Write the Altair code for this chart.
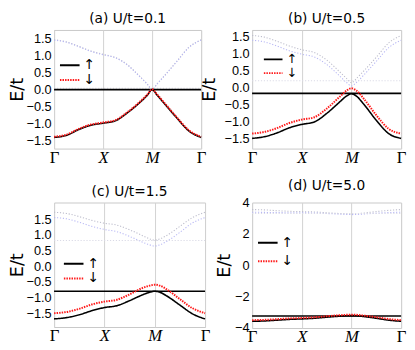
import altair as alt
import pandas as pd

# k-path positions (Γ=0, X=1, M=2, Γ=3)
K = [0, 0.25, 0.5, 0.75, 1, 1.25, 1.5, 1.75, 1.9, 2, 2.1, 2.25, 2.5, 2.75, 3]
K_TICKS = [0, 1, 2, 3]
K_LABELS = ["Γ", "X", "M", "Γ"]
SPINS = ["↑", "↓"]
TITLES = ["(a) U/t=0.1", "(b) U/t=0.5", "(c) U/t=1.5", "(d) U/t=5.0"]

# (a) U/t = 0.1
A_LOW_UP = [-1.41, -1.35, -1.18, -1.05, -0.99, -0.92, -0.68, -0.38, -0.17, 0.0, -0.16, -0.41, -0.83, -1.22, -1.41]
A_LOW_DN = [-1.39, -1.33, -1.16, -1.03, -0.97, -0.90, -0.66, -0.36, -0.15, 0.01, -0.14, -0.39, -0.81, -1.20, -1.39]
A_HIGH_UP = [1.47, 1.41, 1.28, 1.14, 1.04, 0.95, 0.73, 0.39, 0.17, 0.01, 0.17, 0.41, 0.83, 1.25, 1.47]
A_HIGH_DN = [1.46, 1.40, 1.27, 1.13, 1.03, 0.94, 0.72, 0.38, 0.16, 0.0, 0.16, 0.40, 0.82, 1.24, 1.46]
A_FLAT_UP = 0.0
A_FLAT_DN = 0.04

# (b) U/t = 0.5
B_LOW_UP = [-1.50, -1.45, -1.34, -1.19, -1.09, -1.02, -0.77, -0.45, -0.26, -0.19, -0.26, -0.50, -0.97, -1.36, -1.50]
B_LOW_DN = [-1.36, -1.31, -1.20, -1.05, -0.95, -0.88, -0.63, -0.30, -0.10, -0.03, -0.10, -0.34, -0.82, -1.22, -1.36]
B_HIGH_UP = [1.52, 1.47, 1.35, 1.21, 1.10, 1.02, 0.80, 0.47, 0.26, 0.13, 0.26, 0.48, 0.88, 1.30, 1.52]
B_HIGH_DN = [1.38, 1.33, 1.21, 1.07, 0.97, 0.89, 0.67, 0.35, 0.14, 0.04, 0.14, 0.36, 0.76, 1.16, 1.38]
B_FLAT_UP = -0.18
B_FLAT_DN = 0.19

# (c) U/t = 1.5
C_LOW_UP = [-1.68, -1.64, -1.55, -1.42, -1.32, -1.26, -1.10, -0.92, -0.83, -0.80, -0.83, -0.96, -1.24, -1.52, -1.68]
C_LOW_DN = [-1.50, -1.46, -1.36, -1.22, -1.13, -1.07, -0.90, -0.70, -0.62, -0.59, -0.62, -0.75, -1.05, -1.34, -1.50]
C_HIGH_UP = [1.72, 1.68, 1.58, 1.46, 1.37, 1.31, 1.16, 0.98, 0.87, 0.83, 0.87, 0.99, 1.27, 1.55, 1.72]
C_HIGH_DN = [1.55, 1.51, 1.40, 1.27, 1.17, 1.10, 0.95, 0.77, 0.68, 0.64, 0.68, 0.80, 1.08, 1.38, 1.55]
C_FLAT_UP = -0.80
C_FLAT_DN = 0.82

# (d) U/t = 5.0
D_LOW_UP = [-3.57, -3.55, -3.50, -3.45, -3.42, -3.38, -3.31, -3.25, -3.22, -3.21, -3.22, -3.27, -3.38, -3.50, -3.57]
D_LOW_DN = [-3.50, -3.48, -3.44, -3.39, -3.36, -3.32, -3.25, -3.19, -3.16, -3.15, -3.16, -3.21, -3.31, -3.43, -3.50]
D_HIGH_UP = [3.55, 3.53, 3.48, 3.44, 3.42, 3.40, 3.35, 3.30, 3.28, 3.27, 3.28, 3.33, 3.42, 3.50, 3.55]
D_HIGH_DN = [3.38, 3.37, 3.36, 3.35, 3.35, 3.33, 3.30, 3.26, 3.24, 3.23, 3.24, 3.27, 3.32, 3.36, 3.38]
D_FLAT_UP = -3.23
D_FLAT_DN = 3.30

STYLE_DOMAIN = ["↑", "↓", "hi↑", "hi↓", "flat↓"]
COLORS = ["#000000", "#ff1a1a", "#bdbdcc", "#b8b8f4", "#dadae6"]
DASHES = [[1, 0], [1.5, 1.1], [1.2, 1.8], [1.2, 1.8], [1.2, 1.8]]


def make_df(low_up, low_dn, high_up, high_dn, flat_up, flat_dn):
    rows = []
    def add(style, line, ks, vals):
        for k, e in zip(ks, vals):
            rows.append({"k": k, "E": e, "style": style, "line": line})
    add("hi↑", "hi_up", K, high_up)
    add("hi↓", "hi_dn", K, high_dn)
    add("flat↓", "flat_dn", [K[0], K[-1]], [flat_dn, flat_dn])
    add("↑", "flat_up", [K[0], K[-1]], [flat_up, flat_up])
    add("↑", "low_up", K, low_up)
    add("↓", "low_dn", K, low_dn)
    return pd.DataFrame(rows)


label_expr = "[" + ",".join("'%s'" % l for l in K_LABELS) + "][round(datum.value)]"
italic_test = " || ".join("datum.value == %d" % v for v, l in zip(K_TICKS, K_LABELS) if l != "Γ")


def panel(df, title, ydom, yvals, yfmt, w, h, title_x, lx, ly, lh, lsym, lfs):
    leg = alt.Legend(values=SPINS, orient="none", legendX=lx, legendY=ly, title=None,
                     symbolType="stroke", symbolSize=lsym, symbolStrokeWidth=2,
                     labelFont="DejaVu Sans", labelFontSize=lfs, labelColor="black",
                     labelOffset=3, clipHeight=lh, padding=0, rowPadding=0)
    xaxis = alt.Axis(values=K_TICKS, labelExpr=label_expr, grid=True, gridColor="#d2d2d2",
                     gridWidth=1, ticks=False, domain=False, labelFont="Liberation Serif",
                     labelFontSize=17, labelColor="black", labelPadding=1, labelFlush=False,
                     title=None,
                     labelFontStyle={"condition": {"test": italic_test, "value": "italic"}, "value": "normal"})
    yaxis = alt.Axis(values=yvals, format=yfmt, title="E/t", titleFont="DejaVu Sans",
                     titleFontSize=18, titleFontWeight="normal", titleColor="black",
                     titleX=title_x, labelFont="Liberation Sans", labelFontSize=13,
                     labelColor="black", labelPadding=3, ticks=False, domain=False, grid=False)
    base = alt.Chart(df).encode(
        x=alt.X("k:Q", scale=alt.Scale(domain=[0, 3], nice=False, zero=False), axis=xaxis),
        y=alt.Y("E:Q", scale=alt.Scale(domain=ydom, nice=False, zero=False), axis=yaxis),
        color=alt.Color("style:N", scale=alt.Scale(domain=STYLE_DOMAIN, range=COLORS), legend=leg),
        strokeDash=alt.StrokeDash("style:N", scale=alt.Scale(domain=STYLE_DOMAIN, range=DASHES), legend=leg),
        detail="line:N",
    )
    light = base.transform_filter(alt.FieldOneOfPredicate(field="style", oneOf=["hi↑", "hi↓", "flat↓"])).mark_line(
        interpolate="monotone", strokeWidth=1.1)
    black = base.transform_filter(alt.FieldEqualPredicate(field="style", equal="↑")).mark_line(
        interpolate="monotone", strokeWidth=1.6)
    red = base.transform_filter(alt.FieldEqualPredicate(field="style", equal="↓")).mark_line(
        interpolate="monotone", strokeWidth=2.0)
    return alt.layer(light, black, red).properties(
        width=w, height=h,
        title=alt.TitleParams(title, font="DejaVu Sans", fontSize=14, fontWeight="normal",
                              color="black", offset=4, anchor="middle"),
    )


pa = panel(make_df(A_LOW_UP, A_LOW_DN, A_HIGH_UP, A_HIGH_DN, A_FLAT_UP, A_FLAT_DN), TITLES[0],
           [-1.74, 1.76], [-1.5, -1, -0.5, 0, 0.5, 1, 1.5], ".1f", 150, 121, -28, 5, 28.5, 15, 400, 14)
pb = panel(make_df(B_LOW_UP, B_LOW_DN, B_HIGH_UP, B_HIGH_DN, B_FLAT_UP, B_FLAT_DN), TITLES[1],
           [-1.8, 1.68], [-1.5, -1, -0.5, 0, 0.5, 1, 1.5], ".1f", 152, 121, -34, 11, 24.5, 11, 361, 13)
pc = panel(make_df(C_LOW_UP, C_LOW_DN, C_HIGH_UP, C_HIGH_DN, C_FLAT_UP, C_FLAT_DN), TITLES[2],
           [-1.94, 2.03], [-1.5, -1, -0.5, 0, 0.5, 1, 1.5], ".1f", 154, 127, -28, 9, 55, 15, 400, 14)
pd_ = panel(make_df(D_LOW_UP, D_LOW_DN, D_HIGH_UP, D_HIGH_DN, D_FLAT_UP, D_FLAT_DN), TITLES[3],
            [-4, 4], [-4, -2, 0, 2, 4], "d", 152, 128, -19, 5, 31.5, 19, 400, 14)

chart = alt.concat(pa, pb, pc, pd_, columns=2, spacing={"row": 55, "column": 48}, bounds="flush").resolve_scale(
    color="independent", strokeDash="independent"
).properties(padding=0).configure_view(stroke="#c8c8c8", strokeWidth=1)

chart.save("out.html", embed_options={"renderer": "svg", "actions": False})
